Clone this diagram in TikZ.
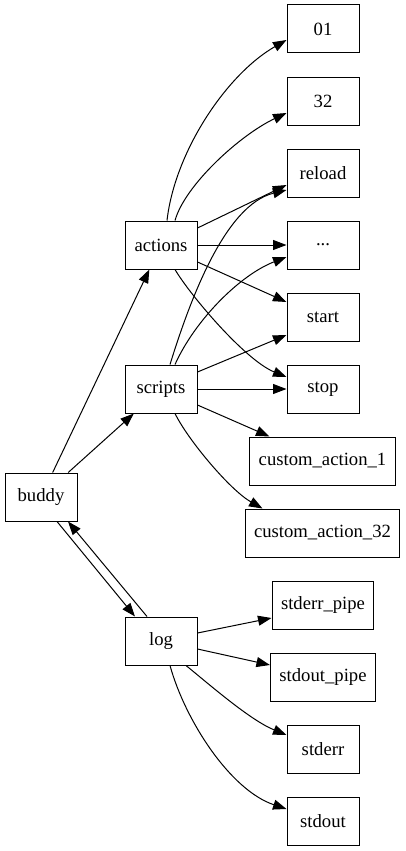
\documentclass[tikz,border=0pt]{standalone}
\usepackage{fontspec}
\setmainfont{Liberation Serif}
\usetikzlibrary{arrows.meta}

\tikzset{
  box/.style={draw, line width=1pt, minimum width=72pt, minimum height=48pt,
    inner xsep=9pt, font=\fontsize{18.67}{22}\selectfont},
  link/.style={line width=1pt, -{Triangle[length=13.5pt,width=10pt]}}
}

\begin{document}
\begin{tikzpicture}[x=1pt, y=-1pt]
        \useasboundingbox (0,0) rectangle (405,851);

        % 绘制左侧节点
        \node[box] (buddy) at (41,497) {buddy};
        \node[box] (actions) at (161,245) {actions};
        \node[box] (scripts) at (161,389) {scripts};
        \node[box] (log) at (161,641) {log};

        % 绘制右侧节点
        \node[box] (n01) at (323,29) {01};
        \node[box] (n32) at (323,101) {32};
        \node[box] (reload) at (323,173) {reload};
        \node[box] (dots) at (323,245) {...};
        \node[box] (start) at (323,317) {start};
        \node[box] (stop) at (323,389) {stop};
        \node[box] (custom1) at (322.5,461) {custom\_action\_1};
        \node[box] (custom32) at (322.5,533) {custom\_action\_32};
        \node[box] (errpipe) at (323,605) {stderr\_pipe};
        \node[box] (outpipe) at (323,677) {stdout\_pipe};
        \node[box] (stderr) at (323,749) {stderr};
        \node[box] (stdout) at (323,821) {stdout};

        % 绘制 buddy 的连线
        \draw[link] (buddy) -- (actions);
        \draw[link] (buddy) -- (scripts);
        \draw[link] ([xshift=16pt]buddy.south) -- ([xshift=-26pt]log.north);
        \draw[link] ([xshift=-14pt]log.north) -- ([xshift=27pt]buddy.south);

        % 绘制 actions 的连线
        \draw[link] ([xshift=6pt]actions.north) .. controls (175,151) and (227,74) .. ([yshift=-11pt]n01.west);
        \draw[link] ([xshift=14pt]actions.north) .. controls (185,185) and (240,135) .. ([yshift=-12pt]n32.west);
        \draw[link] ([yshift=17pt]actions.east) -- ([yshift=-12pt]reload.west);
        \draw[link] (actions) -- (dots);
        \draw[link] ([yshift=-17pt]actions.east) -- ([yshift=15pt]start.west);
        \draw[link] ([xshift=14pt]actions.south) .. controls (190,295) and (245,360) .. ([yshift=12pt]stop.west);

        % 绘制 scripts 的连线
        \draw[link] ([xshift=9pt]scripts.north) .. controls (190,300) and (225,205) .. ([yshift=-17pt]reload.west);
        \draw[link] ([xshift=14pt]scripts.north) .. controls (195,320) and (240,275) .. ([yshift=-12pt]dots.west);
        \draw[link] ([yshift=17pt]scripts.east) -- ([yshift=-18pt]start.west);
        \draw[link] (scripts) -- (stop);
        \draw[link] ([yshift=-16pt]scripts.east) -- ([xshift=-53pt]custom1.north);
        \draw[link] ([xshift=14pt]scripts.south) .. controls (188,440) and (230,490) .. ([xshift=-60pt]custom32.north);

        % 绘制 log 的连线
        \draw[link] ([yshift=8pt]log.east) -- ([yshift=-13pt]errpipe.west);
        \draw[link] ([yshift=-8pt]log.east) -- ([yshift=12pt]outpipe.west);
        \draw[link] ([xshift=25pt]log.south) .. controls (210,685) and (250,720) .. ([yshift=14pt]stderr.west);
        \draw[link] ([xshift=9pt]log.south) .. controls (185,720) and (230,790) .. ([yshift=12pt]stdout.west);
\end{tikzpicture}
\end{document}
